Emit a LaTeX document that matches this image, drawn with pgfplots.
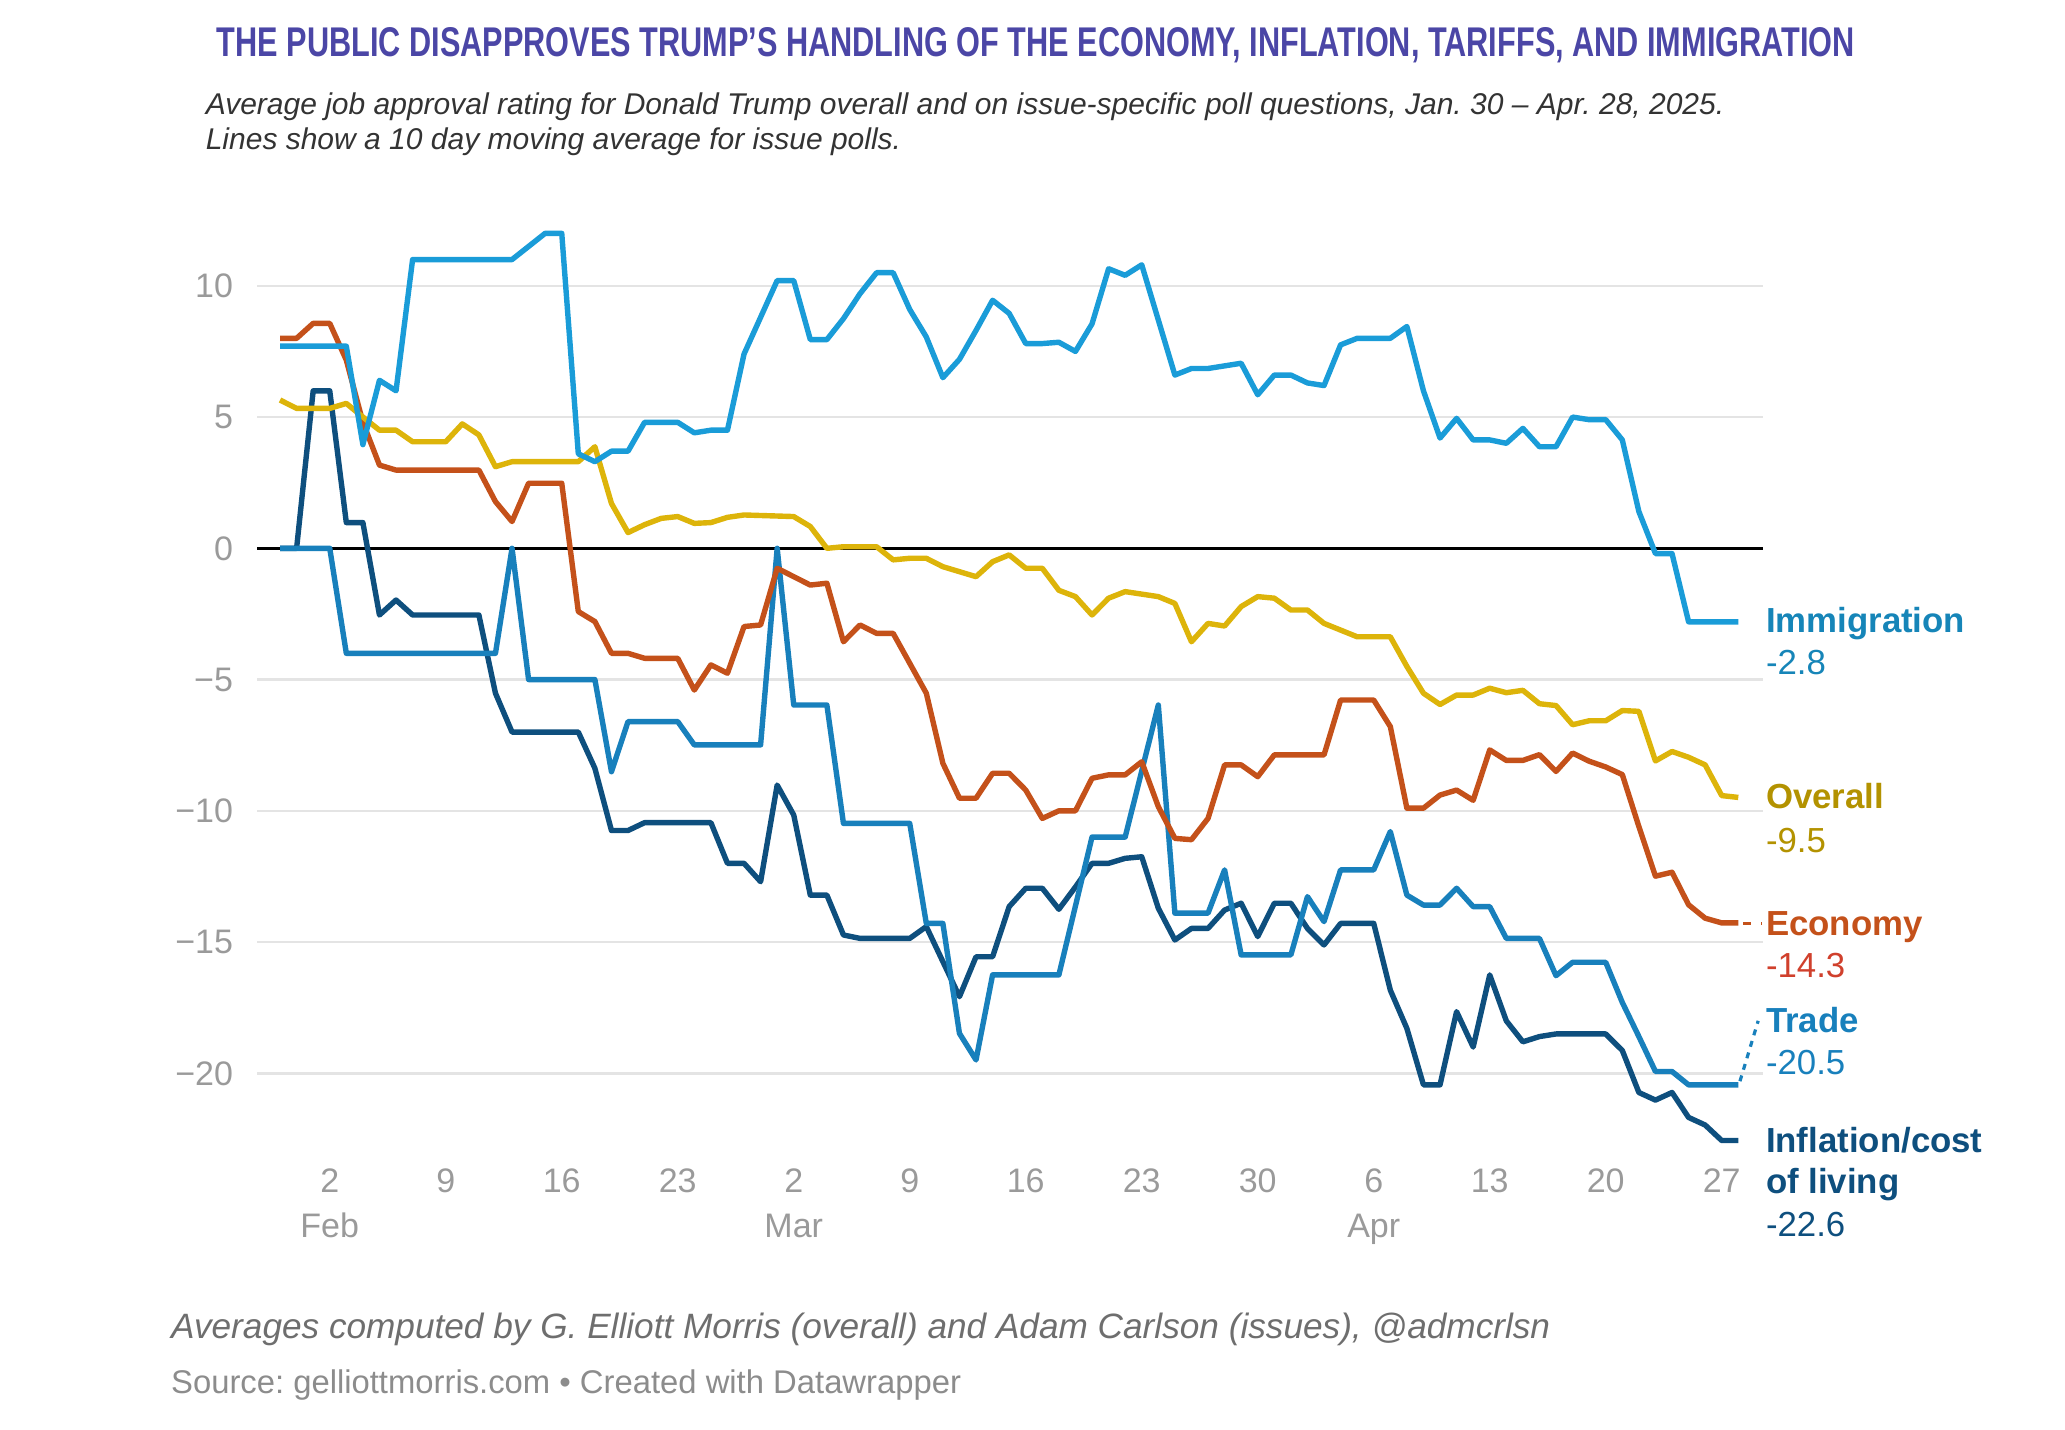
\documentclass[border=0pt]{standalone}
\usepackage{fontspec}
\setmainfont{Liberation Sans}
\usepackage{graphicx}
\usepackage{pgfplots}
\pgfplotsset{compat=1.18}

\definecolor{immig}{HTML}{1A9CD8}
\definecolor{trade}{HTML}{1880BC}
\definecolor{infl}{HTML}{0E4F7E}
\definecolor{econ}{HTML}{C4511A}
\definecolor{overall}{HTML}{DDB40A}
\definecolor{overalltxt}{HTML}{B39200}
\definecolor{econval}{HTML}{D0402C}
\definecolor{titleblue}{HTML}{4B46A6}
\definecolor{subgray}{HTML}{333333}
\definecolor{foot1}{HTML}{6E6E6E}
\definecolor{foot2}{HTML}{8C8C8C}
\definecolor{tickgray}{HTML}{9A9A9A}
\definecolor{gridgray}{HTML}{E4E4E4}

% day index: 0 = Jan 30, 88 = Apr 28
\begin{document}
\frenchspacing
\begin{tikzpicture}
\path[use as bounding box] (0,0) rectangle (516.25pt,-357.5pt);

\node[anchor=base, inner sep=0pt, text=titleblue] at (258.95pt,-14.25pt)
  {\resizebox{409.5pt}{7.25pt}{\bfseries THE PUBLIC DISAPPROVES TRUMP’S HANDLING OF THE ECONOMY, INFLATION, TARIFFS, AND IMMIGRATION}};
\node[anchor=base west, inner sep=0pt, text=subgray, font=\itshape\fontsize{7.5}{8.75}\selectfont] at (51.25pt,-28.75pt)
  {Average job approval rating for Donald Trump overall and on issue-specific poll questions, Jan. 30 – Apr. 28, 2025.};
\node[anchor=base west, inner sep=0pt, text=subgray, font=\itshape\fontsize{7.5}{8.75}\selectfont] at (51.25pt,-37.5pt)
  {Lines show a 10 day moving average for issue polls.};

\begin{axis}[
  at={(64.25pt,-291.3pt)}, anchor=south west,
  scale only axis, width=376.5pt, height=236.25pt,
  xmin=-1.39, xmax=89.49, ymin=-23.5, ymax=12.5,
  axis line style={draw=none}, major tick style={draw=none},
  ymajorgrids, grid style={color=gridgray, line width=0.6pt},
  ytick={-20,-15,-10,-5,0,5,10},
  yticklabels={−20,−15,−10,−5,0,5,10},
  xtick={3,10,17,24,31,38,45,52,59,66,73,80,87},
  xticklabels={{2\\Feb},9,16,23,{2\\Mar},9,16,23,30,{6\\Apr},13,20,27},
  tick label style={font=\fontsize{8.5}{11.25}\selectfont, text=tickgray},
  yticklabel style={anchor=east, inner sep=0pt, xshift=-5.8pt},
  xticklabel style={anchor=north, align=center, inner sep=0pt, yshift=-0.75pt},
  clip=false,
  every axis plot/.append style={line width=1.35pt, line join=round, no marks},
]
\draw[black, line width=0.6pt] (axis cs:-1.39,0) -- (axis cs:89.49,0);

% Inflation / cost of living
\addplot[color=infl] coordinates {
(0,0)(1,0)(2,6.0)(3,6.0)(4,0.98)(5,0.98)(6,-2.54)(7,-1.97)(8,-2.54)(12,-2.54)
(13,-5.52)(14,-7.0)(18,-7.0)(19,-8.38)(20,-10.75)(21,-10.75)(22,-10.45)(26,-10.45)
(27,-12.0)(28,-12.0)(29,-12.7)(30,-9.02)(31,-10.16)(32,-13.21)(33,-13.21)(34,-14.73)
(35,-14.86)(38,-14.86)(39,-14.41)(41,-17.08)(42,-15.56)(43,-15.56)(44,-13.65)
(45,-12.95)(46,-12.95)(47,-13.75)(48,-12.9)(49,-12.0)(50,-12.0)(51,-11.81)(52,-11.75)
(53,-13.71)(54,-14.92)(55,-14.48)(56,-14.48)(57,-13.78)(58,-13.52)(59,-14.79)
(60,-13.52)(61,-13.52)(62,-14.48)(63,-15.11)(64,-14.29)(66,-14.29)(67,-16.83)
(68,-18.29)(69,-20.44)(70,-20.44)(71,-17.65)(72,-19.0)(73,-16.25)(74,-18.0)(75,-18.8)
(76,-18.6)(77,-18.5)(80,-18.5)(81,-19.13)(82,-20.73)(83,-21.02)(84,-20.73)(85,-21.68)
(86,-21.97)(87,-22.56)(88,-22.56)
};

% Trade
\addplot[color=trade] coordinates {
(0,0)(3,0)(4,-4.0)(13,-4.0)(14,0)(15,-5.0)(19,-5.0)(20,-8.51)(21,-6.6)(24,-6.6)
(25,-7.49)(29,-7.49)(30,0)(31,-5.97)(33,-5.97)(34,-10.48)(38,-10.48)(39,-14.29)
(40,-14.29)(41,-18.48)(42,-19.49)(43,-16.25)(47,-16.25)(49,-11.0)(51,-11.0)(53,-5.97)
(54,-13.9)(56,-13.9)(57,-12.25)(58,-15.49)(61,-15.49)(62,-13.27)(63,-14.22)(64,-12.25)
(66,-12.25)(67,-10.79)(68,-13.21)(69,-13.59)(70,-13.59)(71,-12.95)(72,-13.65)(73,-13.65)
(74,-14.86)(76,-14.86)(77,-16.28)(78,-15.77)(80,-15.77)(81,-17.3)(82,-18.6)(83,-19.93)
(84,-19.93)(85,-20.44)(88,-20.44)
};

% Economy
\addplot[color=econ] coordinates {
(0,8.0)(1,8.0)(2,8.57)(3,8.57)(4,7.17)(5,4.8)(6,3.17)(7,2.98)(12,2.98)(13,1.78)
(14,1.02)(15,2.48)(17,2.48)(18,-2.41)(19,-2.79)(20,-4.0)(21,-4.0)(22,-4.19)(24,-4.19)
(25,-5.4)(26,-4.44)(27,-4.76)(28,-2.98)(29,-2.92)(30,-0.76)(31,-1.08)(32,-1.4)(33,-1.33)
(34,-3.56)(35,-2.92)(36,-3.24)(37,-3.24)(38,-4.38)(39,-5.52)(40,-8.19)(41,-9.52)
(42,-9.52)(43,-8.57)(44,-8.57)(45,-9.21)(46,-10.29)(47,-10.0)(48,-10.0)(49,-8.76)
(50,-8.63)(51,-8.63)(52,-8.13)(53,-9.84)(54,-11.05)(55,-11.1)(56,-10.29)(57,-8.25)
(58,-8.25)(59,-8.7)(60,-7.87)(63,-7.87)(64,-5.78)(66,-5.78)(67,-6.79)(68,-9.9)(69,-9.9)
(70,-9.4)(71,-9.21)(72,-9.6)(73,-7.68)(74,-8.08)(75,-8.08)(76,-7.86)(77,-8.5)(78,-7.8)
(79,-8.11)(80,-8.33)(81,-8.62)(82,-10.6)(83,-12.49)(84,-12.34)(85,-13.58)(86,-14.09)
(87,-14.27)(88,-14.27)
};

% Overall
\addplot[color=overall] coordinates {
(0,5.65)(1,5.33)(3,5.33)(4,5.52)(5,5.0)(6,4.5)(7,4.5)(8,4.06)(10,4.06)(11,4.74)
(12,4.32)(13,3.11)(14,3.3)(18,3.3)(19,3.87)(20,1.71)(21,0.6)(22,0.9)(23,1.14)(24,1.21)
(25,0.95)(26,0.98)(27,1.18)(28,1.27)(30,1.23)(31,1.21)(32,0.83)(33,0)(34,0.06)(36,0.06)
(37,-0.44)(38,-0.38)(39,-0.38)(40,-0.7)(42,-1.08)(43,-0.51)(44,-0.25)(45,-0.76)
(46,-0.76)(47,-1.6)(48,-1.84)(49,-2.54)(50,-1.9)(51,-1.65)(53,-1.84)(54,-2.1)(55,-3.56)
(56,-2.86)(57,-2.96)(58,-2.22)(59,-1.84)(60,-1.9)(61,-2.35)(62,-2.35)(63,-2.86)
(65,-3.37)(67,-3.37)(68,-4.5)(69,-5.52)(70,-5.95)(71,-5.59)(72,-5.59)(73,-5.33)
(74,-5.5)(75,-5.41)(76,-5.92)(77,-5.99)(78,-6.72)(79,-6.57)(80,-6.57)(81,-6.18)
(82,-6.21)(83,-8.1)(84,-7.74)(85,-7.96)(86,-8.25)(87,-9.42)(88,-9.49)
};

% Immigration
\addplot[color=immig] coordinates {
(0,7.7)(4,7.7)(5,3.95)(6,6.4)(7,6.0)(8,11)(14,11)(16,12)(17,12)(18,3.6)(19,3.3)
(20,3.7)(21,3.7)(22,4.8)(24,4.8)(25,4.4)(26,4.5)(27,4.5)(28,7.4)(29,8.8)(30,10.2)
(31,10.2)(32,7.95)(33,7.95)(34,8.75)(35,9.7)(36,10.5)(37,10.5)(38,9.1)(39,8.05)
(40,6.5)(41,7.2)(42,8.3)(43,9.45)(44,8.95)(45,7.8)(46,7.8)(47,7.85)(48,7.5)(49,8.55)
(50,10.65)(51,10.4)(52,10.8)(54,6.6)(55,6.85)(56,6.85)(58,7.05)(59,5.85)(60,6.6)
(61,6.6)(62,6.3)(63,6.2)(64,7.75)(65,8.0)(67,8.0)(68,8.45)(69,6.0)(70,4.2)(71,4.95)
(72,4.13)(73,4.13)(74,4.0)(75,4.57)(76,3.87)(77,3.87)(78,5.0)(79,4.9)(80,4.9)(81,4.13)
(82,1.4)(83,-0.2)(84,-0.2)(85,-2.8)(88,-2.8)
};

% leader lines to the end labels
\draw[econ, line width=0.8pt, dash pattern=on 2pt off 2.5pt] (axis cs:88.3,-14.3) -- (axis cs:89.4,-14.3);
\draw[trade, line width=0.8pt, dash pattern=on 1.5pt off 1.5pt] (axis cs:88.1,-20.3) -- (axis cs:89.2,-18.0);
\end{axis}

% end labels
\begin{scope}[every node/.style={anchor=base west, inner sep=0pt, font=\fontsize{8.7}{10.75}\selectfont}]
\node[text=immig!85!black] at (441.3pt,-158.25pt) {\bfseries Immigration};
\node[text=immig!85!black] at (441.3pt,-168.75pt) {-2.8};
\node[text=overalltxt] at (441.3pt,-202.2pt) {\bfseries Overall};
\node[text=overalltxt] at (441.3pt,-213.2pt) {-9.5};
\node[text=econ] at (441.3pt,-233.9pt) {\bfseries Economy};
\node[text=econval] at (441.3pt,-244.45pt) {-14.3};
\node[text=trade] at (441.3pt,-258.2pt) {\bfseries Trade};
\node[text=trade] at (441.3pt,-268.7pt) {-20.5};
\node[text=infl] at (441.3pt,-288pt) {\bfseries Inflation/cost};
\node[text=infl] at (441.3pt,-298.45pt) {\bfseries of living};
\node[text=infl] at (441.3pt,-309.15pt) {-22.6};
\end{scope}

\node[anchor=base west, inner sep=0pt, text=foot1, font=\itshape\fontsize{8.8}{10}\selectfont] at (42.6pt,-334.7pt)
  {Averages computed by G. Elliott Morris (overall) and Adam Carlson (issues), @admcrlsn};
\node[anchor=base west, inner sep=0pt, text=foot2, font=\fontsize{8.2}{10}\selectfont] at (42.6pt,-348.45pt)
  {Source: gelliottmorris.com • Created with Datawrapper};
\end{tikzpicture}
\end{document}
